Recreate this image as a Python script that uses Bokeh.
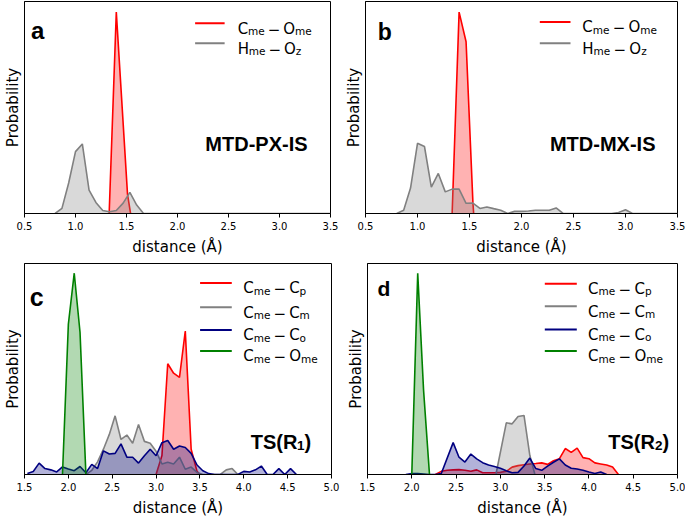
from bokeh.plotting import figure
from bokeh.models import Range1d, FixedTicker, Label, PrintfTickFormatter
from bokeh.layouts import row, column
from bokeh.embed import file_html
from bokeh.resources import INLINE

# ---------------- data ----------------
TICKS_AB = [0.5, 1.0, 1.5, 2.0, 2.5, 3.0, 3.5]
TICKS_CD = [1.5, 2.0, 2.5, 3.0, 3.5, 4.0, 4.5, 5.0]
XLABEL = "distance (Å)"
YLABEL = "Probability"

# panel a (MTD-PX-IS)
a_cme_ome_x = [1.33, 1.40, 1.51, 1.54]
a_cme_ome_y = [0.0, 0.95, 0.09, 0.0]
a_hme_oz_x = [0.80, 0.867, 0.933, 1.00, 1.067, 1.133, 1.20, 1.267, 1.333, 1.40,
              1.467, 1.533, 1.60, 1.667, 3.50]
a_hme_oz_y = [0.0, 0.024, 0.144, 0.292, 0.328, 0.11, 0.052, 0.014, 0.008, 0.014,
              0.049, 0.10, 0.04, 0.0, 0.0]

# panel b (MTD-MX-IS)
b_cme_ome_x = [1.333, 1.40, 1.467, 1.533, 1.54]
b_cme_ome_y = [0.0, 0.95, 0.81, 0.05, 0.0]
b_hme_oz_x = [0.80, 0.867, 0.933, 1.00, 1.067, 1.133, 1.20, 1.267, 1.333, 1.40,
              1.467, 1.533, 1.60, 1.667, 1.733, 1.80, 1.867, 1.933, 2.00, 2.067,
              2.133, 2.20, 2.267, 2.333, 2.40, 2.867, 2.933, 3.00, 3.067, 3.50]
b_hme_oz_y = [0.0, 0.015, 0.12, 0.331, 0.316, 0.124, 0.189, 0.102, 0.115, 0.115,
              0.048, 0.049, 0.024, 0.031, 0.023, 0.015, 0.0, 0.01, 0.01, 0.012,
              0.015, 0.015, 0.015, 0.026, 0.0, 0.0, 0.005, 0.018, 0.0, 0.0]

# panel c (TS(R1))
c_cp_x = [3.0, 3.067, 3.133, 3.2, 3.267, 3.333, 3.4, 3.467, 3.5]
c_cp_y = [0.0, 0.09, 0.525, 0.48, 0.46, 0.68, 0.12, 0.015, 0.0]
c_cm_x = [2.2, 2.267, 2.333, 2.4, 2.467, 2.533, 2.6, 2.667, 2.733, 2.8, 2.867,
          2.933, 3.0, 3.067, 3.133, 3.2, 3.267, 3.333, 3.4, 3.467, 3.533, 3.6,
          3.667, 3.733, 3.8, 3.867, 3.933, 4.0]
c_cm_y = [0.0, 0.02, 0.06, 0.12, 0.19, 0.278, 0.166, 0.187, 0.148, 0.237, 0.157,
          0.148, 0.11, 0.05, 0.058, 0.05, 0.082, 0.025, 0.035, 0.01, 0.0, 0.0,
          0.0, 0.0, 0.022, 0.028, 0.0, 0.0]
c_co_x = [1.533, 1.6, 1.667, 1.733, 1.8, 1.867, 1.933, 2.0, 2.067, 2.133, 2.2,
          2.267, 2.333, 2.4, 2.467, 2.533, 2.6, 2.667, 2.733, 2.8, 2.867, 2.933,
          3.0, 3.067, 3.133, 3.2, 3.267, 3.333, 3.4, 3.467, 3.533, 3.6, 3.667,
          3.933, 4.0, 4.067, 4.133, 4.2, 4.267, 4.333, 4.4, 4.467, 4.533, 4.6]
c_co_y = [0.005, 0.014, 0.054, 0.028, 0.022, 0.012, 0.036, 0.026, 0.018, 0.038,
          0.008, 0.048, 0.028, 0.112, 0.097, 0.10, 0.145, 0.082, 0.082, 0.054,
          0.089, 0.12, 0.089, 0.151, 0.161, 0.12, 0.135, 0.128, 0.10, 0.045,
          0.018, 0.004, 0.0, 0.0, 0.015, 0.012, 0.022, 0.04, 0.0, 0.0, 0.028,
          0.0, 0.028, 0.0]
c_ome_x = [1.933, 2.0, 2.067, 2.133, 2.2]
c_ome_y = [0.0, 0.712, 0.954, 0.674, 0.0]

# panel d (TS(R2))
d_cp_x = [2.267, 2.333, 2.4, 2.467, 2.533, 2.6, 2.667, 2.733, 2.8, 2.867, 2.933,
          3.0, 3.067, 3.133, 3.2, 3.267, 3.333, 3.4, 3.467, 3.533, 3.6, 3.667,
          3.733, 3.8, 3.867, 3.933, 4.0, 4.067, 4.133, 4.2, 4.267, 4.333]
d_cp_y = [0.0, 0.015, 0.02, 0.022, 0.023, 0.02, 0.015, 0.022, 0.008, 0.008,
          0.008, 0.01, 0.015, 0.035, 0.042, 0.046, 0.05, 0.052, 0.055, 0.048,
          0.065, 0.075, 0.123, 0.105, 0.125, 0.08, 0.075, 0.055, 0.05, 0.045,
          0.035, 0.0]
d_cm_x = [2.95, 3.067, 3.133, 3.2, 3.267, 3.333, 3.39]
d_cm_y = [0.0, 0.245, 0.24, 0.275, 0.28, 0.09, 0.0]
d_co_x = [1.933, 2.0, 2.067, 2.133, 2.2, 2.267, 2.333, 2.467, 2.533, 2.6, 2.667,
          2.733, 2.8, 2.867, 2.933, 3.0, 3.067, 3.133, 3.2, 3.267, 3.333, 3.4,
          3.467, 3.533, 3.6, 3.667, 3.733, 3.8, 3.867, 3.933, 4.0, 4.067, 4.133,
          4.2]
d_co_y = [0.0, 0.004, 0.004, 0.002, 0.0, 0.0, 0.005, 0.151, 0.082, 0.059, 0.097,
          0.074, 0.056, 0.045, 0.038, 0.03, 0.018, 0.008, 0.01, 0.04, 0.078,
          0.028, 0.02, 0.04, 0.058, 0.074, 0.045, 0.03, 0.026, 0.02, 0.012,
          0.005, 0.012, 0.0]
d_ome_x = [2.0, 2.067, 2.133, 2.2]
d_ome_y = [0.0, 0.954, 0.40, 0.0]

# legend entries: (main, subscript, main, subscript)
LEG_AB = [("C", "me", "O", "me"), ("H", "me", "O", "z")]
LEG_CD = [("C", "me", "C", "p"), ("C", "me", "C", "m"),
          ("C", "me", "C", "o"), ("C", "me", "O", "me")]
PANEL_LETTERS = ["a", "b", "c", "d"]
TEXT_A = "MTD-PX-IS"
TEXT_B = "MTD-MX-IS"
TEXT_C = ("TS(R", "1", ")")
TEXT_D = ("TS(R", "2", ")")

RED, GRAY, NAVY, GREEN = "#ff0000", "#808080", "#000080", "#008000"

# ---------------- layout helpers ----------------
FS, SUB, SUBDROP, GAP = 15, 10.5, 2.5, 0.22
BOLD, BSUB = 20, 13.5

DJ = {'C': 0.698, 'O': 0.787, 'H': 0.752, 'm': 0.974, 'e': 0.615, 'z': 0.525,
      'p': 0.635, 'o': 0.612, '−': 0.838, ' ': 0.318}
AB = {'T': 0.611, 'S': 0.667, '(': 0.333, 'R': 0.722, ')': 0.333, '1': 0.556,
      '2': 0.556}


def tw(s, size, table):
    return sum(table.get(ch, 0.6) for ch in s) * size


FRAME = {}


def at(p, dx, dy):
    fw, fh = FRAME[p.id]
    xr, yr = p.x_range, p.y_range
    return (xr.start + dx / fw * (xr.end - xr.start),
            yr.end - dy / fh * (yr.end - yr.start))


def make_fig(xr, ticks, w, h, bl, br, bt, bb):
    p = figure(width=w, height=h, x_range=Range1d(*xr), y_range=Range1d(0, 1),
               output_backend="svg", toolbar_location=None,
               min_border_left=bl, min_border_right=br,
               min_border_top=bt, min_border_bottom=bb)
    FRAME[p.id] = (w - bl - br, h - bt - bb)
    p.grid.visible = False
    p.outline_line_color = "black"
    p.outline_line_width = 1
    p.background_fill_color = "white"
    p.border_fill_color = "white"
    xa = p.xaxis[0]
    xa.ticker = FixedTicker(ticks=ticks)
    xa.formatter = PrintfTickFormatter(format="%.1f")
    xa.minor_tick_line_color = None
    xa.major_tick_in = 0
    xa.major_tick_out = 4
    xa.major_tick_line_color = "black"
    xa.axis_line_color = "black"
    xa.major_label_text_font = "DejaVu Sans"
    xa.major_label_text_font_size = "10px"
    xa.major_label_text_color = "black"
    xa.major_label_standoff = 4
    xa.axis_label = XLABEL
    xa.axis_label_text_font = "DejaVu Sans"
    xa.axis_label_text_font_size = "15px"
    xa.axis_label_text_font_style = "normal"
    xa.axis_label_text_color = "black"
    xa.axis_label_standoff = 5
    ya = p.yaxis[0]
    ya.ticker = FixedTicker(ticks=[])
    ya.major_tick_out = 0
    ya.major_tick_in = 0
    ya.minor_tick_line_color = None
    ya.major_label_standoff = 0
    ya.axis_line_color = "black"
    ya.axis_label = YLABEL
    ya.axis_label_text_font = "DejaVu Sans"
    ya.axis_label_text_font_size = "15px"
    ya.axis_label_text_font_style = "normal"
    ya.axis_label_text_color = "black"
    ya.axis_label_standoff = 3
    return p


def series(p, x, y, color):
    p.varea(x=x, y1=[0.0] * len(x), y2=y, fill_color=color, fill_alpha=0.3)
    p.line(x, y, line_color=color, line_width=1.6)


def put(p, t, cx, base, size, font="DejaVu Sans", style="normal"):
    lx, ly = at(p, cx, base)
    p.add_layout(Label(x=lx, y=ly, text=t, text_font=font, text_font_style=style,
                       text_font_size=f"{size}px", text_baseline="alphabetic",
                       text_align="left", text_color="black"))


def legend_entry(p, lx0, lx1, tx, ry, color, parts):
    x0, y = at(p, lx0, ry)
    x1, _ = at(p, lx1, ry)
    p.line([x0, x1], [y, y], line_color=color, line_width=2)
    base = ry + 0.365 * FS
    m1, s1, m2, s2 = parts
    cx = tx
    put(p, m1, cx, base, FS); cx += tw(m1, FS, DJ)
    put(p, s1, cx, base + SUBDROP, SUB); cx += tw(s1, SUB, DJ) + GAP * FS
    put(p, "−", cx, base, FS); cx += tw("−", FS, DJ) + GAP * FS
    put(p, m2, cx, base, FS); cx += tw(m2, FS, DJ)
    put(p, s2, cx, base + SUBDROP, SUB)


def letter(p, t, dx, base, size=24):
    put(p, t, dx, base, size, "Liberation Sans", "bold")


def bold_text(p, t, right, base):
    lx, ly = at(p, right, base)
    p.add_layout(Label(x=lx, y=ly, text=t, text_font="Liberation Sans",
                       text_font_style="bold", text_font_size=f"{BOLD}px",
                       text_baseline="alphabetic", text_align="right",
                       text_color="black"))


def bold_sub_text(p, parts, right, base):
    main1, sub, main2 = parts
    segs = [(main1, BOLD, 0.0), (sub, BSUB, 3.5), (main2, BOLD, 0.0)]
    total = sum(tw(t, s, AB) for t, s, _ in segs)
    cx = right - total
    for t, s, drop in segs:
        put(p, t, cx, base + drop, s, "Liberation Sans", "bold")
        cx += tw(t, s, AB)


# ---------------- panels ----------------
pa = make_fig((0.5, 3.5), TICKS_AB, 340, 258, 19, 10, 1, 40)
series(pa, a_cme_ome_x, a_cme_ome_y, RED)
series(pa, a_hme_oz_x, a_hme_oz_y, GRAY)
legend_entry(pa, 173.4, 203.4, 216.7, 22.2, RED, LEG_AB[0])
legend_entry(pa, 173.4, 203.4, 216.7, 42.8, GRAY, LEG_AB[1])
letter(pa, PANEL_LETTERS[0], 6.7, 29.5)
bold_text(pa, TEXT_A, 287.7, 146.2)

pb = make_fig((0.5, 3.5), TICKS_AB, 345, 258, 25, 8, 1, 40)
series(pb, b_cme_ome_x, b_cme_ome_y, RED)
series(pb, b_hme_oz_x, b_hme_oz_y, GRAY)
legend_entry(pb, 174.3, 205.0, 216.7, 21.0, RED, LEG_AB[0])
legend_entry(pb, 174.3, 205.0, 216.7, 42.8, GRAY, LEG_AB[1])
letter(pb, PANEL_LETTERS[1], 12.3, 31.2, 23)
bold_text(pb, TEXT_B, 290.0, 146.2)

pc = make_fig((1.5, 5.0), TICKS_CD, 340, 261, 21, 9, 5, 39)
series(pc, c_cp_x, c_cp_y, RED)
series(pc, c_cm_x, c_cm_y, GRAY)
series(pc, c_co_x, c_co_y, NAVY)
series(pc, c_ome_x, c_ome_y, GREEN)
for ry, col, parts in zip([20.0, 45.0, 68.4, 90.0], [RED, GRAY, NAVY, GREEN], LEG_CD):
    legend_entry(pc, 177.3, 209.3, 221.0, ry, col, parts)
letter(pc, PANEL_LETTERS[2], 5.3, 34.0, 25)
bold_sub_text(pc, TEXT_C, 289.3, 184.0)

pd_ = make_fig((1.5, 5.0), TICKS_CD, 345, 261, 27, 8, 5, 39)
series(pd_, d_cp_x, d_cp_y, RED)
series(pd_, d_cm_x, d_cm_y, GRAY)
series(pd_, d_co_x, d_co_y, NAVY)
series(pd_, d_ome_x, d_ome_y, GREEN)
for ry, col, parts in zip([20.7, 44.0, 68.0, 90.0], [RED, GRAY, NAVY, GREEN], LEG_CD):
    legend_entry(pd_, 177.3, 209.3, 220.6, ry, col, parts)
letter(pd_, PANEL_LETTERS[3], 10.0, 25.7, 21)
bold_sub_text(pd_, TEXT_D, 301.6, 184.0)

layout = column(row(pa, pb), row(pc, pd_))
open("out.html", "w").write(file_html(layout, INLINE))
